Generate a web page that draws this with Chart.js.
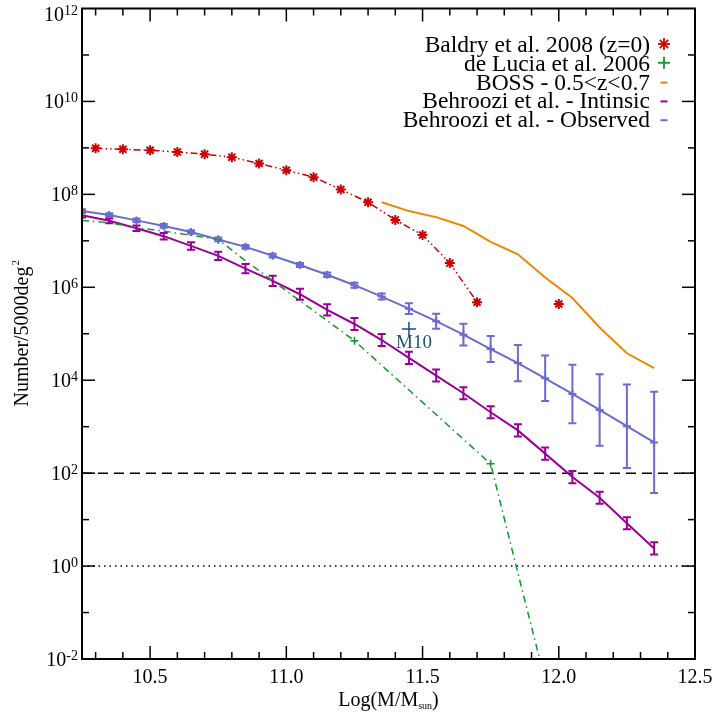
<!DOCTYPE html>
<html>
<head>
<meta charset="utf-8">
<script src="https://cdn.jsdelivr.net/npm/chart.js@4"></script>
<style>
  html, body { margin: 0; padding: 0; background: #fff; }
  #wrap { width: 715px; height: 714px; }
</style>
</head>
<body>
<div id="wrap"><canvas id="chart"></canvas></div>
<script>
// === Data (y values given as log10 of Number/5000deg^2) ===
const baldryX = [10.3, 10.4, 10.5, 10.6, 10.7, 10.8, 10.9, 11.0, 11.1, 11.2, 11.3, 11.4, 11.5, 11.6, 11.7, 12.0];
const baldryLog = [8.99, 8.97, 8.95, 8.91, 8.865, 8.80, 8.665, 8.52, 8.37, 8.107, 7.83, 7.45, 7.125, 6.52, 5.68, 5.64];

const deLuciaX = [10.25, 10.35, 10.45, 10.55, 10.65, 10.75, 10.85, 10.95, 11.05, 11.15, 11.25, 11.35, 11.45, 11.55, 11.65, 11.75, 11.85, 11.95];
const deLuciaLog = [7.44, 7.39, 7.28, 7.21, 7.12, 7.03, 6.57, 6.14, 5.71, 5.28, 4.85, 4.32, 3.79, 3.26, 2.73, 2.20, -0.15, -2.47];
const deLuciaMarked = [10.75, 11.25, 11.75];

const bossX = [11.35, 11.45, 11.55, 11.65, 11.75, 11.85, 11.95, 12.05, 12.15, 12.25, 12.35];
const bossLog = [7.83, 7.64, 7.51, 7.32, 6.975, 6.71, 6.21, 5.77, 5.135, 4.58, 4.26];

const massX = [10.25, 10.35, 10.45, 10.55, 10.65, 10.75, 10.85, 10.95, 11.05, 11.15, 11.25, 11.35, 11.45, 11.55, 11.65, 11.75, 11.85, 11.95, 12.05, 12.15, 12.25, 12.35];
const intrinsicLog = [7.55, 7.43, 7.27, 7.10, 6.89, 6.675, 6.40, 6.14, 5.85, 5.515, 5.21, 4.865, 4.48, 4.10, 3.72, 3.31, 2.92, 2.42, 1.915, 1.47, 0.92, 0.38];
const intrinsicErr = [0.05, 0.05, 0.06, 0.07, 0.08, 0.09, 0.10, 0.11, 0.12, 0.12, 0.13, 0.13, 0.13, 0.13, 0.13, 0.13, 0.13, 0.13, 0.13, 0.13, 0.13, 0.13];
const observedLog = [7.64, 7.555, 7.44, 7.32, 7.19, 7.03, 6.87, 6.68, 6.48, 6.27, 6.045, 5.80, 5.54, 5.27, 4.98, 4.67, 4.37, 4.04, 3.705, 3.36, 3.01, 2.66];
const observedErr = [0.04, 0.04, 0.04, 0.04, 0.04, 0.04, 0.04, 0.04, 0.045, 0.05, 0.055, 0.065, 0.115, 0.16, 0.235, 0.28, 0.39, 0.49, 0.63, 0.77, 0.90, 1.09];

const m10X = [11.45];
const m10Log = [5.10];

const refX = [10.25, 12.5];
const dashedLevel = 100;
const dottedLevel = 1;

const xTickLabels = ['10.5', '11.0', '11.5', '12.0', '12.5'];
const yTickExps = ['-2', '0', '2', '4', '6', '8', '10', '12'];
const legendLabels = ['Baldry et al. 2008 (z=0)', 'de Lucia et al. 2006', 'BOSS - 0.5<z<0.7', 'Behroozi et al. - Intinsic', 'Behroozi et al. - Observed'];

// === Styling ===
const RED = '#cc0000', GREEN = '#16962a', ORANGE = '#ee8800', PURPLE = '#990099', BLUE = '#6b6bd0', NAVY = '#1f4f7a';
const SERIF = "'Liberation Serif', 'Times New Roman', serif";

const pts = (xs, logs) => xs.map((x, i) => ({ x, y: Math.pow(10, logs[i]) }));

// === Error bars ===
const errorBars = {
    id: 'errorBars',
    afterDatasetsDraw(chart) {
        const { ctx, chartArea: a, scales: { x, y } } = chart;
        const sets = [[intrinsicLog, intrinsicErr, PURPLE], [observedLog, observedErr, BLUE]];
        ctx.save();
        ctx.beginPath();
        ctx.rect(a.left, a.top, a.right - a.left, a.bottom - a.top);
        ctx.clip();
        ctx.lineWidth = 2;
        sets.forEach(([logs, errs, color]) => {
            ctx.strokeStyle = color;
            massX.forEach((mx, i) => {
                const px = x.getPixelForValue(mx);
                const hi = y.getPixelForValue(Math.pow(10, logs[i] + errs[i]));
                const lo = y.getPixelForValue(Math.pow(10, logs[i] - errs[i]));
                ctx.beginPath();
                ctx.moveTo(px, hi); ctx.lineTo(px, lo);
                ctx.moveTo(px - 4, hi); ctx.lineTo(px + 4, hi);
                ctx.moveTo(px - 4, lo); ctx.lineTo(px + 4, lo);
                ctx.stroke();
            });
        });
        ctx.restore();
    }
};

// === Frame, ticks, labels, legend ===
const decorations = {
    id: 'decorations',
    afterDraw(chart) {
        const { ctx, chartArea: a, scales: { x, y } } = chart;
        const line = (x1, y1, x2, y2) => { ctx.beginPath(); ctx.moveTo(x1, y1); ctx.lineTo(x2, y2); ctx.stroke(); };
        ctx.save();
        ctx.strokeStyle = '#000';
        ctx.fillStyle = '#000';
        ctx.lineWidth = 2;
        ctx.strokeRect(a.left, a.top, a.right - a.left, a.bottom - a.top);

        // ticks
        ctx.lineWidth = 1.5;
        for (let i = 103; i <= 124; i++) {
            const px = x.getPixelForValue(i / 10);
            const len = i % 5 === 0 ? 13 : 7;
            line(px, a.bottom, px, a.bottom - len);
            line(px, a.top, px, a.top + len);
        }
        for (let e = -1; e <= 11; e++) {
            const py = y.getPixelForValue(Math.pow(10, e));
            const len = e % 2 === 0 ? 13 : 7;
            line(a.left, py, a.left + len, py);
            line(a.right, py, a.right - len, py);
        }

        // x tick labels
        ctx.font = `20px ${SERIF}`;
        ctx.textAlign = 'center';
        ctx.textBaseline = 'alphabetic';
        xTickLabels.forEach(t => ctx.fillText(t, x.getPixelForValue(parseFloat(t)), 683));

        // y tick labels with superscripts
        yTickExps.forEach(exp => {
            let py = y.getPixelForValue(Math.pow(10, parseFloat(exp)));
            if (py < 15) py = 14;
            ctx.font = `14px ${SERIF}`;
            const supW = ctx.measureText(exp).width;
            ctx.textAlign = 'left';
            ctx.fillText(exp, 78 - supW, py + 1);
            ctx.font = `20px ${SERIF}`;
            ctx.textAlign = 'right';
            ctx.fillText('10', 78 - supW, py + 7);
        });

        // x title
        ctx.font = `20px ${SERIF}`;
        const p1 = 'Log(M/M', p3 = ')';
        const w1 = ctx.measureText(p1).width, w3 = ctx.measureText(p3).width;
        ctx.font = `10px ${SERIF}`;
        const w2 = ctx.measureText('sun').width;
        let sx = (a.left + a.right) / 2 - (w1 + w2 + w3) / 2;
        ctx.textAlign = 'left';
        ctx.font = `20px ${SERIF}`;
        ctx.fillText(p1, sx, 706);
        ctx.font = `10px ${SERIF}`;
        ctx.fillText('sun', sx + w1, 709);
        ctx.font = `20px ${SERIF}`;
        ctx.fillText(p3, sx + w1 + w2, 706);

        // y title
        ctx.save();
        ctx.translate(28, (a.top + a.bottom) / 2);
        ctx.rotate(-Math.PI / 2);
        ctx.font = `20px ${SERIF}`;
        const yt = 'Number/5000deg';
        const wt = ctx.measureText(yt).width;
        ctx.font = `11px ${SERIF}`;
        const ws = ctx.measureText('2').width;
        ctx.textAlign = 'left';
        ctx.font = `20px ${SERIF}`;
        ctx.fillText(yt, -(wt + ws) / 2, 0);
        ctx.font = `11px ${SERIF}`;
        ctx.fillText('2', -(wt + ws) / 2 + wt + 1, -9);
        ctx.restore();

        // M10 label
        ctx.fillStyle = NAVY;
        ctx.font = `19px ${SERIF}`;
        ctx.textAlign = 'left';
        ctx.fillText('M10', 396, 348);

        // legend
        const colors = [RED, GREEN, ORANGE, PURPLE, BLUE];
        ctx.font = `23.5px ${SERIF}`;
        ctx.textAlign = 'right';
        legendLabels.forEach((lab, i) => {
            const cy = 44 + i * 18.8;
            ctx.fillStyle = '#000';
            ctx.fillText(lab, 650, cy + 8);
            ctx.strokeStyle = colors[i];
            ctx.lineWidth = 1.8;
            const mx = 664;
            if (i === 0) {
                const r = 6;
                line(mx - r, cy, mx + r, cy);
                line(mx, cy - r, mx, cy + r);
                line(mx - r * 0.7, cy - r * 0.7, mx + r * 0.7, cy + r * 0.7);
                line(mx - r * 0.7, cy + r * 0.7, mx + r * 0.7, cy - r * 0.7);
            } else if (i === 1) {
                line(mx - 6, cy, mx + 6, cy);
                line(mx, cy - 6, mx, cy + 6);
            } else {
                ctx.lineWidth = 2;
                line(mx - 3.5, cy + 1, mx + 3.5, cy + 1);
            }
        });
        ctx.restore();
    }
};

const baldryLast = baldryX.length - 1;

new Chart(document.getElementById('chart'), {
    type: 'line',
    data: {
        datasets: [
            {
                data: pts(baldryX, baldryLog),
                borderColor: RED, borderWidth: 1.5, borderDash: [7, 3, 1.5, 3, 1.5, 3],
                pointStyle: 'star', pointRadius: 5, pointBorderWidth: 2, pointBorderColor: RED,
                segment: { borderColor: c => c.p1DataIndex === baldryLast ? 'transparent' : RED },
            },
            {
                data: pts(deLuciaX, deLuciaLog),
                borderColor: GREEN, borderWidth: 1.5, borderDash: [7, 4, 1.5, 4],
                pointStyle: 'cross', pointBorderColor: GREEN, pointBorderWidth: 1.5,
                pointRadius: c => deLuciaMarked.includes(deLuciaX[c.dataIndex]) ? 4 : 0,
            },
            {
                data: pts(bossX, bossLog),
                borderColor: ORANGE, borderWidth: 2, pointRadius: 0,
            },
            {
                data: pts(massX, intrinsicLog),
                borderColor: PURPLE, borderWidth: 2, pointRadius: 0,
            },
            {
                data: pts(massX, observedLog),
                borderColor: BLUE, borderWidth: 2,
                pointStyle: 'cross', pointRadius: 4, pointBorderWidth: 2, pointBorderColor: BLUE,
            },
            {
                data: pts(m10X, m10Log),
                showLine: false,
                pointStyle: 'cross', pointRadius: 7, pointBorderWidth: 1.5, pointBorderColor: NAVY,
            },
            {
                data: refX.map(x => ({ x, y: dashedLevel })),
                borderColor: '#000', borderWidth: 1.5, borderDash: [10, 6], pointRadius: 0,
            },
            {
                data: refX.map(x => ({ x, y: dottedLevel })),
                borderColor: '#000', borderWidth: 1.5, borderDash: [1.5, 4], pointRadius: 0,
            },
        ]
    },
    options: {
        animation: false,
        responsive: true,
        maintainAspectRatio: false,
        devicePixelRatio: 1,
        layout: { padding: { left: 82, right: 20, top: 7, bottom: 55 } },
        elements: { line: { tension: 0, fill: false } },
        scales: {
            x: { type: 'linear', min: 10.25, max: 12.5, display: false },
            y: { type: 'logarithmic', min: 1e-2, max: 1e12, display: false },
        },
        plugins: { legend: { display: false }, tooltip: { enabled: false } },
    },
    plugins: [errorBars, decorations],
});
</script>
</body>
</html>
